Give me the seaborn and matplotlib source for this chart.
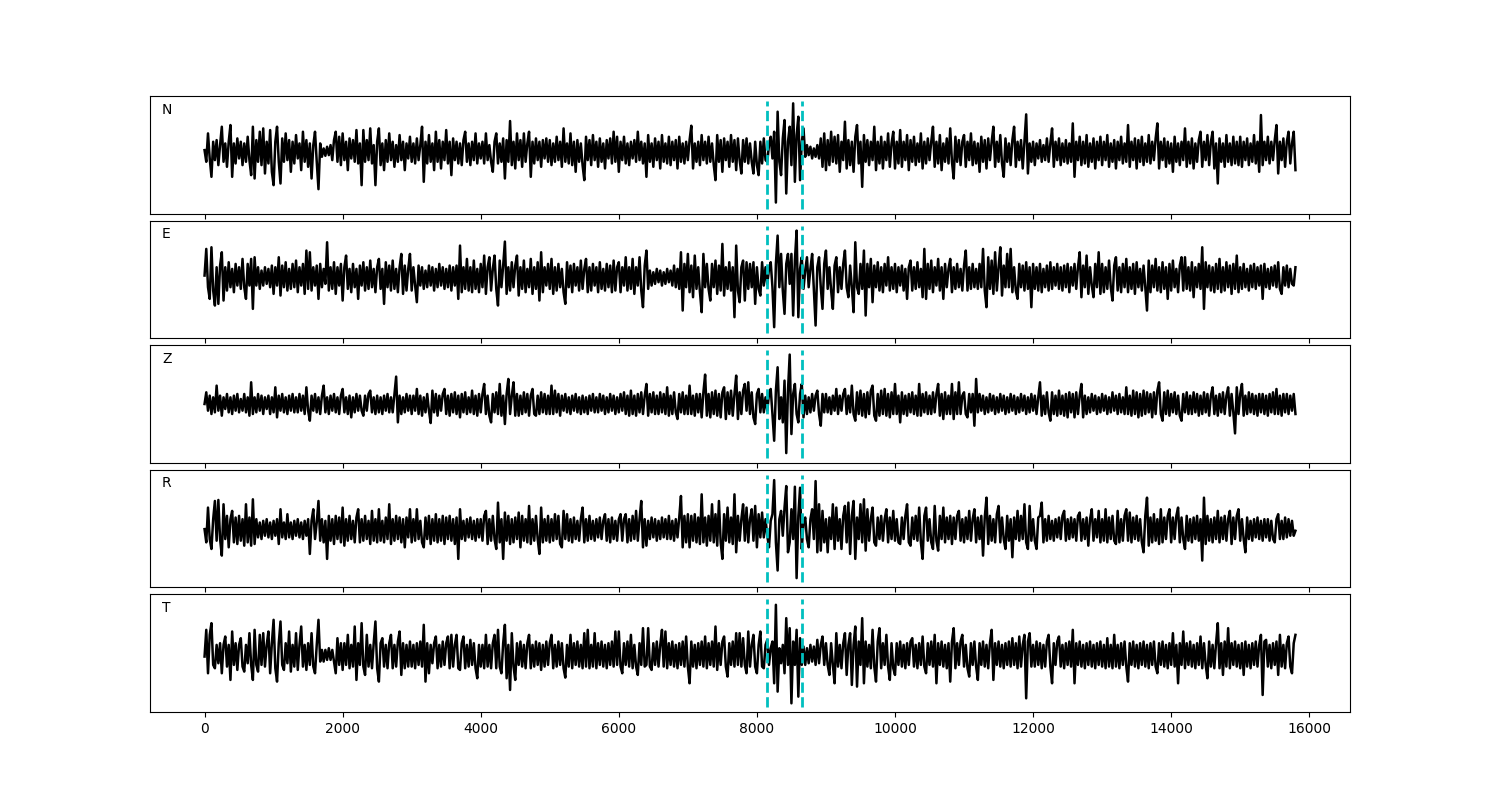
import numpy as np
import matplotlib
matplotlib.use("Agg")
import matplotlib.pyplot as plt
import seaborn as sns

# ---- data (amplitudes, one value every 25 samples) ----
sample_step = 25
channels = ["N", "E", "Z", "R", "T"]
pick_times = [8150, 8650]

N_vals = [
    5, -30, 55, -20, -75, 30, -25, 35, -40, 20, 75, -30, 25, -45, 30, 80, -75, 25, -35, 40, -20, 30, -40, 25, -30, 45, -25, -70, 75, -80, 35, -30, 60, -40, 70, -65, 30, -35, 65, -60,
    -100, 30, 75, -30, -95, 40, -30, 55, -25, 35, -60, 30, -35, 50, -20, 25, -55, 60, -30, 35, -45, 25, -80, 20, 60, -30, -112, 25, -15, 10, -12, 15, -10, 20, -25, 35, 60, -30, 45, -40,
    55, -25, 30, -55, 40, -20, 35, -30, 65, -35, 25, -100, 65, -30, 35, -25, 70, -35, 20, -100, 30, 70, -40, 25, -55, 35, -30, 55, -25, 30, -45, 20, -30, 50, -25, 30, -55, 25, -20, 45,
    -30, 25, -35, 40, -25, 20, 75, -90, 30, -35, 50, -30, 25, -55, 60, -30, 35, -50, 30, -25, 65, -35, 30, -70, 40, -25, 30, -35, 25, -40, 35, 60, -30, 25, -40, 30, -25, 55, -35, 25,
    -20, 30, -35, 55, -25, 20, -30, -60, 30, 55, -35, 25, -30, 40, -80, 35, -30, 92, -40, 30, -50, 55, -25, 35, -45, 55, -30, 25, 60, -75, 30, -35, 40, -25, 30, -45, 35, -20, 40, -30,
    35, -40, 25, -30, 45, -25, 30, -45, 70, -30, 25, -35, 55, -40, 30, -60, 35, -30, 25, -40, -85, 45, -25, 35, -40, 50, -25, 30, -45, 40, -30, 25, -50, 35, -20, 40, -35, 60, -30, 45,
    -60, 30, -25, 45, -35, 25, -40, 30, -20, 35, -30, 60, -25, 30, -35, 25, -75, 50, -30, 25, -45, 40, -25, 30, -50, 50, -30, 25, -35, 45, -40, 30, -25, 35, -50, 45, -30, 25, -35, 30,
    -25, 35, 78, -50, 25, -30, 30, -40, 50, -25, 30, -35, 45, -30, 25, -40, -85, 50, -30, 35, -60, 40, -25, 30, -45, 50, -30, 35, -55, 40, -25, -65, 35, -30, 40, -35, 25, -30, -65, 30,
    -40, -70, 30, -35, 40, -25, -30, 20, 45, -20, 60, -152, 120, -30, -70, 40, 95, -125, 30, 75, -40, 145, -90, 50, 105, -85, 30, 70, -15, 20, -10, 15, -20, 10, -15, 20, -20, 40, -45, 55,
    -55, 35, -40, 60, -30, 45, -35, 50, -60, 30, -25, 90, -50, 35, -40, 30, -60, 45, 80, -35, 30, -105, 50, -30, 35, -40, 30, -25, 75, -55, 30, -35, 45, -50, 30, -25, 55, -45, 25, 60,
    -50, 30, -35, 65, -45, 30, -25, 50, -55, 35, -30, 45, -40, 25, -30, 55, -50, 30, -35, 40, -25, 30, 75, -45, 30, -35, 50, -55, 25, -30, 40, -35, 70, -30, -80, 45, -30, 35, -40, 30,
    50, -45, 30, -25, 55, -40, 30, -35, 25, -60, 45, -30, 35, -50, 40, -25, 30, 75, -45, 30, -30, 50, -35, -75, 40, -30, 25, -40, 35, 75, -45, 30, -25, 35, -50, 30, 112, -65, 25, -30,
    30, -40, 25, -20, 35, -30, 20, -25, 40, -30, 25, 70, -45, 30, -25, 40, -40, 25, -30, 35, -35, 25, -30, 85, -75, 30, -25, 45, -40, 30, -35, 50, -45, 25, -30, 40, -50, 30, -25, 45,
    -40, 30, -25, 50, -45, 25, -30, 35, -50, 30, -25, 45, -35, 25, -30, 80, -45, 30, -25, 40, -50, 35, -30, 45, -40, 25, -30, 50, -35, 30, -25, 40, 85, -50, 30, -25, 40, -45, 30, -35,
    25, -60, 45, -30, 25, -40, 30, -25, 70, -45, 30, -35, 40, -50, 25, -30, 35, 60, -45, 30, -25, 50, -40, 30, 60, -50, 25, -95, 40, -30, 25, -45, 50, -30, 25, -40, 45, -35, 30, -40,
    45, -45, 30, -25, 40, -40, 25, -30, 50, -35, 30, -60, 110, -40, 30, -25, 45, -35, 30, -25, 35, 80, -65, 30, -25, 40, -45, 30, 60, -35, 25, 60, -55,
]

E_vals = [
    5, 85, -30, -65, 90, -40, -85, 30, -80, 35, 75, -70, 30, -40, 45, -30, 25, -45, 40, -25, 30, -35, 55, -30, -65, 40, -25, 55, -95, 60, -25, 30, -35, 20, -25, 30, -20, 25, -30, 35,
    -50, 30, -25, 60, -55, 35, -30, 45, -40, 25, -35, 40, -30, 50, -45, 30, -25, 40, -50, 80, -35, 75, -40, 30, -25, 35, -65, 40, -30, 25, -20, 105, -40, 30, -35, 45, -50, 30, -25, 40,
    -70, 30, 65, -35, 25, -45, 40, -30, 25, -65, 35, -25, 45, -40, 30, -35, 50, -30, 25, -45, 30, 55, -35, 25, -80, 45, -30, 35, -40, 50, -35, 25, -45, 30, 70, -50, 35, -40, 25, 70,
    -40, 30, -25, -75, 35, -25, 30, -35, 20, -30, 35, -25, 30, -40, 25, -30, 40, -25, 30, -35, 25, -30, 35, -40, 30, -25, 35, -65, 95, -45, 30, -35, 55, -40, 30, -45, 50, -35, 25, -45,
    40, -30, 65, -50, 30, 60, -40, 25, 65, -35, -85, 50, -30, 35, 107, -50, 30, -40, 45, -30, 35, 65, -55, 30, -35, 50, -45, 25, -30, 55, -50, 30, -35, 45, -70, 75, -45, 30, -25, 40,
    -35, 55, -50, 30, -40, 40, -30, 25, -45, -80, 45, -30, 35, -45, 40, -25, 30, -40, 50, -35, 25, 55, -45, 30, -40, 40, -25, 30, -45, 45, -35, 25, -40, 40, -30, 35, -45, 50, -40, 30,
    45, -45, 30, -25, 60, -40, 30, -35, 55, -50, 30, -25, 60, -40, -90, 35, 80, -35, 20, -25, 15, -20, 25, -15, 20, -25, 15, -20, 25, -15, 20, -25, 35, -30, 25, -35, 75, -100, 40, -30,
    70, -45, 35, -60, 65, -35, 30, -45, -105, 70, -30, 40, -35, -70, 40, -30, 50, -50, 35, -40, 100, -55, 30, -35, 45, -40, 30, -120, 95, -40, -75, 30, 50, -70, 45, -35, 40, -30, 45, -80,
    30, -35, -55, 45, -25, 30, -20, 25, 45, -30, -150, 40, 125, -30, 70, -40, -110, 40, 70, -20, 70, -115, 50, 140, -120, 25, 60, -35, 20, 60, -30, 25, 70, -40, -145, 30, 60, -30, -95, 40,
    80, -35, 30, -40, -95, 35, 60, -45, 30, -35, 40, 80, -30, -60, 35, -30, -105, 105, -30, -50, 40, -35, 80, -115, 40, -30, 55, -75, 35, -30, 45, -40, 30, -45, 40, -25, 60, -40, 30, -35,
    40, -45, 30, -25, 35, -40, 25, -65, 30, 50, -40, 30, -35, 45, -30, 25, -60, 85, -65, 40, -35, 50, -45, 30, -25, 55, -40, 30, -65, 40, -30, 25, 55, -45, 30, -35, 40, -30, 25, -40,
    35, 80, -40, 30, -35, 40, -30, 25, -35, 40, -30, 85, -40, -90, 60, -35, 50, -50, 75, -40, 30, 90, -55, 35, -30, 70, -30, 85, -45, 30, -40, -65, 40, -30, 35, -40, 45, -35, 30, -90,
    40, -35, 30, -40, 40, -45, 25, -30, 35, -40, 45, -35, 30, -25, 40, -35, 30, -40, 35, -30, 40, -45, 30, -25, 40, -35, 30, 75, -60, 35, -30, 65, -50, 30, -25, -60, 40, -30, 75, -50,
    40, -45, 30, -35, 50, -30, -70, 35, 60, -40, 30, -45, 40, -30, 55, -45, 30, -35, 40, -50, 45, -30, 25, -40, 35, -30, -100, 50, -45, 35, -30, 55, -40, 30, -45, 45, -35, 30, -65, 40,
    -40, 50, -30, 25, -45, 35, 60, -40, 60, -35, 30, -40, 45, -60, 30, -30, 40, -35, 90, -95, 45, -30, 35, -40, 30, -45, 40, -35, 55, -45, 30, -40, 45, -30, 35, -50, 40, -35, 65, -45,
    30, -35, 40, -30, 25, -40, 35, -30, 40, -35, 30, -25, 35, -65, 40, -30, 25, -35, 30, -25, 35, -30, 45, -35, -50, 30, -25, 35, -30, 25, -20, -25, 30,
]

Z_vals = [
    0, 35, -20, 25, -30, 20, -25, 55, -20, 25, -35, 20, -15, 30, -25, 20, -30, 25, -20, 30, -25, 15, -20, 30, -25, 20, -35, 65, -30, 20, -25, 30, -20, 25, -30, 20, -15, 25, -30, 20,
    -25, 50, -40, 25, -20, 30, -25, 20, -30, 25, -20, 30, -25, 20, -25, 30, -20, 25, -30, 50, -20, -50, 25, -20, 30, -25, 20, -30, 25, 55, -25, 20, -30, 25, -20, 30, -25, 20, -30, 25,
    45, -25, 20, -30, 25, -40, 20, -25, 30, -20, 25, -20, -35, 25, -20, 30, 40, -25, 20, -30, 25, -25, 20, -30, 25, -20, 30, -25, 20, -25, 30, 82, -55, 25, -30, 20, -25, 30, -20, 25,
    -30, 25, -20, 45, -30, 25, -35, 20, -25, 30, -20, -57, 40, -25, 30, -35, 25, -20, 30, 45, -30, 25, -35, 30, -25, 35, -30, 25, -40, 30, -25, 35, -30, 20, -25, 40, -30, 25, -35, 30,
    -25, 30, 60, -30, 25, -35, -55, 30, -25, 35, -30, 60, -35, 25, -60, 30, 75, -30, 25, 65, -35, 30, -35, 25, -30, 35, -25, 30, -35, 25, 45, -30, -35, 25, -30, 35, -25, 30, -30, 25,
    -30, 55, -30, 40, -25, 30, -35, 25, -20, 30, -25, 20, -30, 25, -20, 30, -25, 20, -30, 25, -25, 20, -30, 25, -20, 30, -25, 20, -25, 30, -20, 25, -30, 20, -25, 30, -20, 25, -30, 20,
    -25, 30, -20, 35, -30, 25, -35, 40, -30, 25, -35, 30, -25, 35, -30, 25, 60, -35, 30, -25, 35, -30, 25, -30, 35, -25, 30, -30, 50, -35, 25, -30, 35, -25, -45, 30, -25, 35, -30, 25,
    -30, 55, -30, 25, -35, 30, -25, 30, -40, 35, 88, -35, 30, -40, 35, -30, 40, -35, 30, -40, 35, 50, -45, 35, -30, 40, -35, 30, 85, -45, 35, -30, 40, 60, -20, 65, -30, 35, -40, -60,
    30, 45, -25, 30, -25, 20, -20, 30, 45, -30, -110, 40, 110, -45, 20, -55, 70, -147, 40, 148, -90, 30, 60, -30, -55, 30, 60, -40, 25, -30, 20, -25, 30, -20, 25, 40, -30, -65, 30, -25,
    30, -25, 20, -30, 25, -20, 45, -30, 25, -20, 30, 45, -30, 25, -25, 55, -30, -50, 35, -30, 40, -35, 30, -40, 35, -30, 40, 55, -35, -50, 30, -35, 40, -30, 45, -35, 30, -40, 35, -30,
    60, -30, 25, -55, 35, -30, 25, -35, 30, -25, 35, -30, 25, -35, 60, -35, 30, -25, 35, -30, 25, -30, 35, -25, 30, 60, -35, 30, -45, 35, -30, 25, -30, 60, -45, 35, -30, 65, -30, 25,
    35, -30, -40, 30, -25, 30, -65, 75, -25, 30, -20, 25, -30, 20, -25, 30, -20, 25, -30, 20, -25, 30, -20, 25, -30, 20, -25, 30, -20, 25, -30, 20, -25, 30, -20, 25, -30, 20, -25, 30,
    -20, 25, -30, 20, 65, -35, 25, -30, 35, -25, -50, 35, -30, 25, -35, 40, -30, 25, -35, 30, -40, 35, -25, 30, -40, 35, -30, 25, 60, -40, 25, -30, 20, -25, 30, -20, 25, -30, 20, -25,
    30, -20, 25, -30, 20, -25, 35, -20, 25, -30, 30, -25, 20, -30, 50, -30, 25, -35, 40, -30, 35, -40, 30, -35, 40, -30, 35, -25, 30, -40, 35, -30, 40, 65, -30, -50, 35, -30, 40, -35,
    30, -25, 35, -30, 25, -35, -50, 30, -25, 35, -30, 25, -30, 35, -25, 30, -35, 25, -30, 35, -25, 30, -35, 25, 50, -30, 25, -35, 30, -25, 35, -30, 25, 50, -35, 30, -25, -88, 50, -30,
    30, 60, -35, 25, -30, 35, -25, 30, -30, 25, -35, 30, -25, 30, -30, 25, -35, 30, -25, 35, -30, 45, -30, 25, -35, 30, -25, 30, -30, 25, -20, 30, -30,
]

R_vals = [
    0, -40, 65, -30, -60, 30, 85, -35, 88, -30, -80, 75, -30, 40, -55, 30, 55, -40, 35, -45, 40, -35, 30, -50, 75, -40, 35, -50, 90, -45, 30, -25, 20, -30, 25, -20, 30, -25, 20, -30,
    25, -20, 30, -45, 60, -25, 20, -30, 45, -25, 20, -30, 25, -20, 30, -25, 20, -30, 25, -20, 30, -75, 25, 60, -30, 20, 85, -35, 30, -40, 25, -90, 40, -35, 30, -45, 40, -30, 35, -40,
    65, -50, 30, -35, 40, -30, 25, -40, 35, 60, -40, 30, -35, 40, -30, 25, -45, 55, -35, 30, -40, 60, -35, 25, -40, 35, -30, 75, -45, 30, -35, 40, -30, 35, -40, 30, -55, 35, -25, 60,
    -40, 30, -35, 60, -30, 25, -40, -55, 35, -30, 40, -45, 30, -35, 45, -40, 30, -35, 40, -45, 35, -30, 40, -35, 30, -45, 35, -90, 60, -30, 25, -35, 30, -25, 35, -30, 25, -35, 30, -25,
    30, -35, 40, 55, -45, 30, -35, 40, -30, -60, 80, -40, 30, -90, 50, -35, 40, -45, 30, -40, 35, -30, 50, -55, 40, -35, 30, -40, 70, -45, 30, -35, 40, -30, -75, 65, -40, 30, -35, 40,
    -40, 30, -35, 45, -30, 40, -45, -55, 55, -30, 45, -35, 30, -40, 35, -30, 25, -35, 30, 65, -40, 30, -35, 40, -30, 25, -35, 30, -25, 35, -30, 25, 45, -35, 30, -40, 35, -30, 25, -35,
    30, 45, -35, 30, 45, -40, 30, -35, 40, -30, 55, -35, 30, 85, -55, 30, -50, 25, -30, 35, -25, 30, -35, 25, -30, 35, -25, 30, -30, 40, -30, 25, -35, 30, -25, 35, 100, -55, 40, -40,
    45, -55, 40, -35, 45, -40, 35, -45, 105, -40, 35, -50, 40, -35, 75, -40, 45, -50, 85, -40, -90, 45, -35, 65, -40, 35, -45, 105, -70, 40, -35, 30, 75, -35, 65, -40, 30, 60, -35, 70,
    -55, 45, -25, 50, -25, 30, -20, -55, 25, 45, 148, -40, -125, 30, 55, -20, 65, 130, -70, -40, 60, -30, 128, -148, 40, 125, -60, 20, 35, -30, -55, 30, 60, -30, 145, -70, 75, -65, 55, -40,
    30, -70, 35, -30, 75, -60, 65, -35, 30, -60, 40, 70, -40, 80, -75, 40, 85, -90, 35, -30, 75, -40, 90, -65, 60, -35, 30, 65, -40, -50, 35, -30, 40, -35, 30, 60, -40, 35, -30, 55,
    -35, 30, -40, -45, 35, -30, 40, 75, -40, -50, 35, -30, 40, -35, 65, -40, -90, 40, 65, -35, 30, -40, -60, 70, -35, -65, 40, -30, 65, -40, 35, -30, 40, -45, 35, -30, 40, 55, -35, 30,
    -40, 35, -30, 55, -35, 30, 60, -40, 35, -30, 40, -80, 35, 95, -45, 40, -35, 30, -40, 45, 70, -40, 35, -30, -60, 40, -35, 30, -85, 35, -30, 55, -35, 40, -30, 75, -40, -60, 70, -35,
    30, -35, -60, 35, 40, 80, -40, 30, -35, 40, -30, 25, -35, 30, -25, 35, -30, 40, 55, -35, 30, -30, 35, -25, 30, -35, 40, 50, -35, 30, -30, 35, -50, 30, 60, -35, 30, -25, 55, -40,
    30, -35, 60, -40, 35, -30, 40, -35, -45, 55, -40, 30, -35, 40, 60, -35, 50, -40, 35, -30, 40, -35, 30, -40, -70, 40, 95, -50, 35, -40, 45, -35, 30, -45, 60, -40, 35, -30, 40, 60,
    -40, 35, -30, 40, 65, -40, 35, -30, -60, 40, -35, 30, -40, 35, -30, 40, -35, 30, -95, 95, -45, 40, -35, 30, -40, 35, -30, 55, -40, 35, -30, 40, -35, 30, 55, -45, 35, -30, 40, 60,
    -35, 30, -30, -70, 35, -30, 25, -35, 30, -25, 35, -30, 25, -35, 30, -25, 30, -35, 25, -30, -40, 30, 45, -30, 25, -30, 35, -25, 30, -20, 25, -20, -5,
]

T_vals = [
    -5, 75, -55, 60, 95, -30, -40, 30, -25, 35, -55, 30, 55, -35, 30, -75, 70, -30, 35, -45, 30, 50, -35, -50, 30, -25, 65, -30, -75, 75, -30, -50, 60, -30, 65, -35, 30, 70, -55, 35,
    105, -40, -80, 35, 100, -30, -45, 35, -25, 70, -50, 30, -35, 65, -45, 30, 85, -35, 30, -45, 35, -30, 65, -35, -55, 30, 105, -20, 15, -20, 15, -15, 20, -15, 15, -20, -55, 50, -30, 35,
    -45, 35, -30, 60, -40, 30, -35, 85, -75, 35, -30, 95, -35, -60, 60, -35, 30, -40, 35, 100, -40, -80, 35, 50, -35, 30, -40, 35, 60, -40, 30, -35, 40, 70, -60, 35, -40, 30, -35, 40,
    -35, 30, -40, 35, -30, 40, -35, 90, -80, 35, -55, 30, -25, 35, 55, -40, 30, -35, 40, -30, 35, 55, -40, 60, -35, 30, 60, -40, -45, 35, 55, -40, 30, -35, 45, -30, 35, -40, -70, 30,
    -35, 30, -40, 60, -35, 30, -40, 35, 60, -40, 75, -35, -55, 35, 90, -70, 30, -105, 65, -35, -75, 35, -30, 40, -35, 30, -40, 35, 60, -40, 30, -35, 40, -30, 35, -45, 30, -35, 40, -30,
    35, 60, -40, 30, -35, 40, -30, 35, -40, -68, 30, -35, 60, -40, 35, -30, 40, -35, 30, -40, 65, -35, 75, -40, 30, -35, 65, -40, 35, -30, 40, -35, 30, -40, 35, -30, 40, -35, 70, -30,
    70, -35, -55, 35, -30, 40, -35, 60, -40, 30, -35, -60, 35, -30, 80, -35, -30, 80, -35, -45, 35, -30, 40, -35, 30, 75, -35, 70, -40, 35, -30, 40, -35, 30, -40, 35, -30, 40, -35, 55,
    -35, -85, 40, -35, 30, -40, 35, -30, 40, -35, 55, -40, 35, -30, 40, -35, 85, -45, 35, -30, 40, 55, -35, -65, 35, -30, 40, -35, 65, -30, 65, -35, 50, -30, -55, 70, -35, 30, 60, -35,
    -55, 30, 70, -35, -40, 30, 45, -30, 20, 40, -85, 150, -110, 20, -25, 30, -55, 110, -30, 80, -145, 40, -30, 75, -125, 50, -30, 25, -30, 20, -25, 30, -20, 25, -30, 45, -25, 30, 55, -30,
    35, -30, -60, 35, -30, -85, 65, -35, 30, -40, 35, 65, -60, 30, 65, -90, 30, 85, -95, 40, -30, 110, -85, 40, -35, 30, -40, 75, -35, -80, 40, 80, -40, 35, -30, 60, -35, -75, 35, -40,
    -60, 35, -30, 40, -35, 30, -40, 35, -30, 40, 50, -35, 30, -40, 35, -30, 55, -35, -55, 35, -30, 40, -35, 60, -85, 35, -30, 40, -35, 30, -40, 35, -80, 40, 80, -40, 35, -30, 40, 60,
    -35, 30, -40, -65, 35, -30, 40, -35, -75, 35, -30, 40, -35, 30, -40, 35, 75, -75, 35, -30, 40, -35, 30, -40, 35, -30, 40, -35, 50, -30, 35, -40, 55, -35, 30, 60, -130, 40, 65, -35,
    30, -35, 40, -30, 35, -40, 30, -35, 40, 60, -35, -85, 35, -30, 40, 55, -35, 30, -40, 35, -30, 40, -35, 75, -85, 35, -30, 40, -35, 30, -40, 35, -30, 40, -35, 30, -40, 35, -30, 40,
    -35, 30, -40, 50, -35, 30, -40, 60, -35, 30, -40, 35, -30, 40, -35, -80, 35, -30, 40, -35, 30, -40, 35, -30, 40, -35, 30, -40, 35, -30, 40, -35, -55, 35, -30, 40, -35, 30, -40, 35,
    -30, 65, -35, 30, -85, 35, -30, 70, -40, 35, -30, 40, -35, 30, -40, 35, -30, 55, -40, 35, -30, -70, 40, -35, 30, -40, 35, 95, -40, 35, -60, 40, -35, 80, -40, 35, -30, 40, -35, 30,
    -40, 35, -60, 40, -35, 30, -40, 35, -30, 40, -35, 30, 60, -120, 40, 45, -35, 30, -40, 35, -30, 40, -60, 60, -35, 30, -40, 35, 55, -35, -55, 35, 60,
]

traces = [N_vals, E_vals, Z_vals, R_vals, T_vals]
y_limits = [(-185, 167), (-183, 170), (-176, 176), (-176, 179), (-171, 181)]

fig, axes = plt.subplots(5, 1, figsize=(15, 8), sharex=True)
fig.subplots_adjust(left=0.1, right=0.9, top=0.88, bottom=0.11, hspace=0.06)

for ax, name, vals, lim in zip(axes, channels, traces, y_limits):
    t = np.arange(len(vals)) * sample_step
    sns.lineplot(x=t, y=np.asarray(vals, dtype=float), ax=ax,
                 color="black", linewidth=1.8)
    for p in pick_times:
        ax.axvline(p, ymin=0.043, ymax=0.957, color="c", ls="--", lw=2)
    ax.set_ylim(lim)
    ax.set_yticks([])
    ax.set_ylabel("")
    ax.text(0.01, 0.85, name, transform=ax.transAxes, fontsize=10)

fig.savefig("out.png", dpi=100)
